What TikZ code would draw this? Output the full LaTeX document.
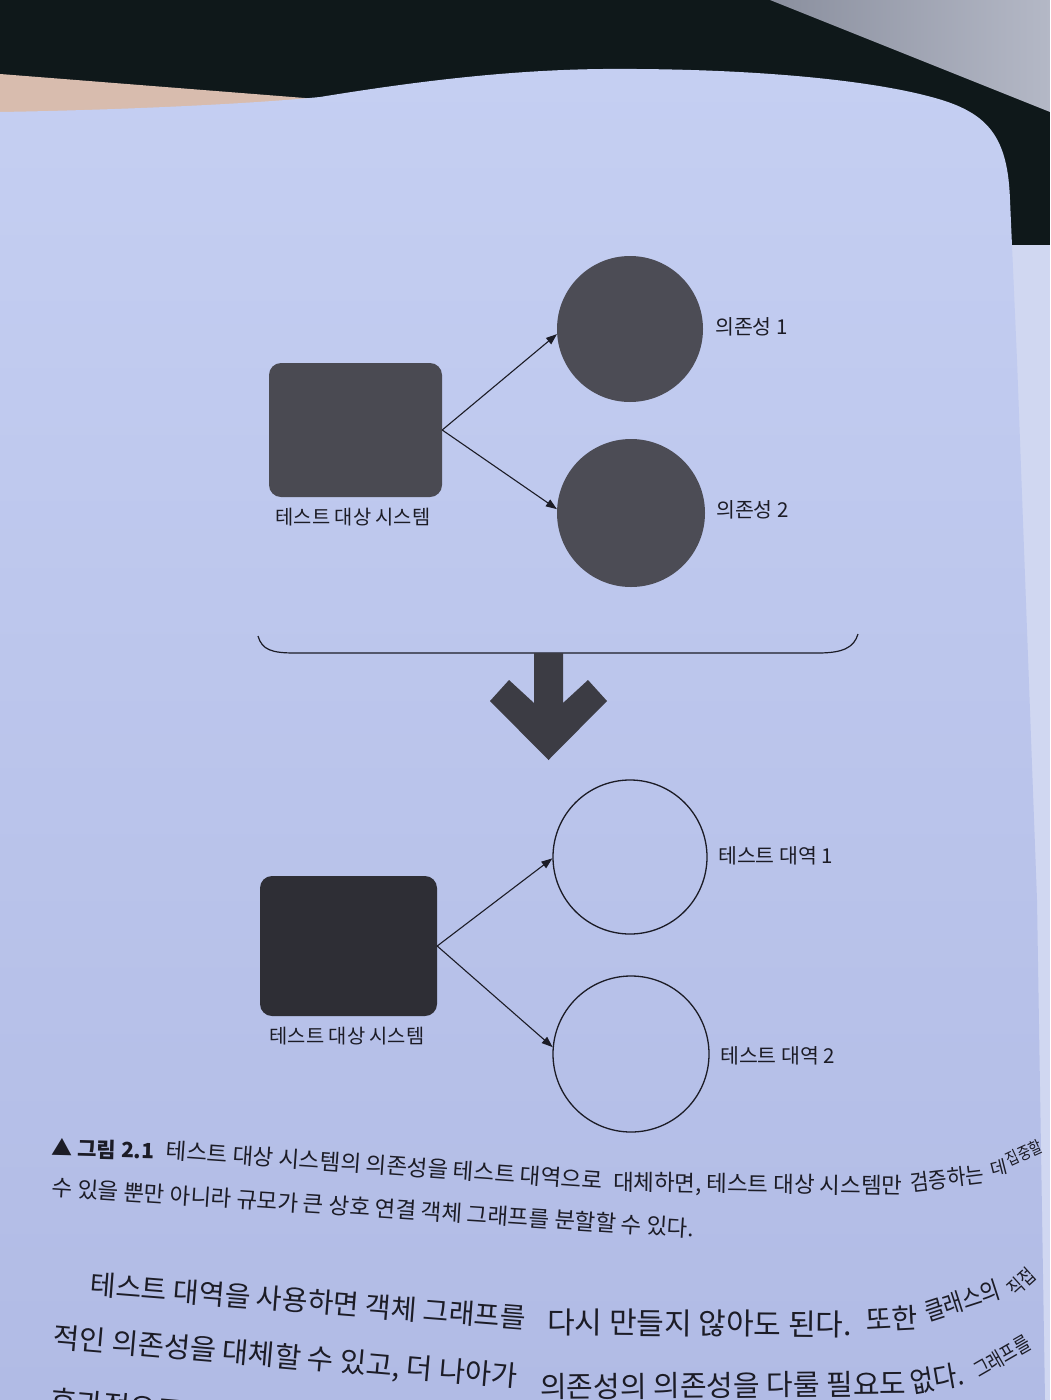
\documentclass[tikz,border=0pt]{standalone}
\usepackage{fontspec}
\newfontfamily\kr{Noto Sans CJK KR}
\usetikzlibrary{arrows.meta}
\definecolor{darkbg}{HTML}{0F181A}
\definecolor{graylt}{HTML}{B4B8C6}
\definecolor{graydk}{HTML}{8A8F9E}
\definecolor{beige}{HTML}{D8BCAE}
\definecolor{pagetop}{HTML}{C5CFF2}
\definecolor{pagebot}{HTML}{B1BBE5}
\definecolor{otherpage}{HTML}{D0D7F1}
\definecolor{sysgray}{HTML}{4A4A52}
\definecolor{sysdark}{HTML}{2E2E35}
\definecolor{dotgray}{HTML}{4C4C55}
\definecolor{arrowgray}{HTML}{3C3C44}
\definecolor{ink}{HTML}{1C1C26}
\begin{document}
\begin{tikzpicture}[x=1pt,y=-1pt,
  sysbox/.style={draw=none, fill=#1, rounded corners=12pt, inner sep=0pt},
  depdot/.style={circle, fill=dotgray, minimum size=#1, inner sep=0pt},
  dblring/.style={circle, draw=ink, line width=1.3pt, minimum size=#1, inner sep=0pt},
  lbl/.style={font=\kr\fontsize{19.8}{21}\selectfont, text=ink, inner sep=0pt},
  rlbl/.style={font=\kr\fontsize{20.5}{22}\selectfont, text=ink, inner sep=0pt, anchor=west},
  conn/.style={draw=ink, line width=1.1pt, -{Triangle[length=11pt,width=8pt]}},
  captxt/.style={font=\kr\fontsize{22.4}{24}\selectfont, text=ink, inner sep=0pt, anchor=west},
  bodytxt/.style={font=\kr\fontsize{28.5}{30}\selectfont, text=ink, inner sep=0pt, anchor=west}]
\useasboundingbox (0,0) rectangle (1050,1400);
\clip (0,0) rectangle (1050,1400);
% background: table, desk and pages
\fill[darkbg] (0,0) rectangle (1050,1400);
\shade[left color=graydk, right color=graylt] (770,0) -- (1050,0) -- (1050,112) -- cycle;
\fill[beige] (0,74) -- (330,100) -- (330,118) -- (0,118) -- cycle;
\fill[otherpage] (1000,245) rectangle (1050,1400);
\shade[top color=pagetop, bottom color=pagebot]
  (0,112) .. controls (120,110) and (250,104) .. (320,97)
  .. controls (400,84) and (500,70) .. (603,69)
  .. controls (750,68) and (880,80) .. (945,101)
  .. controls (990,116) and (1008,140) .. (1010,200)
  -- (1017,360) -- (1037,900) -- (1045,1400) -- (0,1400) -- cycle;
% top diagram
\node[sysbox=sysgray, minimum width=173pt, minimum height=134pt] (sut1) at (355.5,430) {};
\node[lbl] (sut1lbl) at (353,517) {테스트 대상 시스템};
\node[depdot=146pt] (dep1) at (630,329) {};
\node[depdot=148pt] (dep2) at (631,513) {};
\node[rlbl] (dep1lbl) at (715,327) {의존성 1};
\node[rlbl] (dep2lbl) at (716,510) {의존성 2};
\draw[conn] (sut1.east) -- (dep1.184);
\draw[conn] (sut1.east) -- (dep2.177);
% brace and big arrow
\draw[ink, line width=1.2pt] (258,636) .. controls (262,650) and (272,653) .. (295,653)
  -- (818,653) .. controls (842,653) and (854,648) .. (858,634);
\fill[arrowgray] (534,653) -- (563,653) -- (563,703) -- (588,680) -- (607,701)
  -- (548.5,760) -- (490,701) -- (509,680) -- (534,703) -- cycle;
% bottom diagram
\node[sysbox=sysdark, minimum width=177pt, minimum height=140pt] (sut2) at (348.5,946) {};
\node[lbl] (sut2lbl) at (347,1036) {테스트 대상 시스템};
\node[dblring=154pt] (dbl1) at (630,857) {};
\node[dblring=156pt] (dbl2) at (631,1054) {};
\node[rlbl] (dbl1lbl) at (718,856) {테스트 대역 1};
\node[rlbl] (dbl2lbl) at (720,1056) {테스트 대역 2};
\draw[conn] (sut2.east) -- (dbl1.181);
\draw[conn] (sut2.east) -- (dbl2.175);
% caption
\node[captxt, rotate=-1.5, font=\kr\fontsize{21}{22}\selectfont] (capA) at (52,1148) {▲ {\bfseries 그림 2.1}};
\node[captxt, rotate=-4] (capB) at (166,1150) {테스트 대상 시스템의 의존성을 테스트 대역으로};
\node[captxt, rotate=-0.8] (capC) at (613,1183) {대체하면, 테스트 대상 시스템만};
\node[captxt, rotate=7, xscale=0.9] (capD) at (910,1183) {검증하는};
\node[captxt, rotate=14, font=\kr\fontsize{18}{19}\selectfont] (capE) at (991,1170) {데};
\node[captxt, rotate=25, xscale=0.8, font=\kr\fontsize{17}{18}\selectfont] (capF) at (1007,1161) {집중할};
\node[captxt, rotate=-3.7] (capG) at (52,1187) {수 있을 뿐만 아니라 규모가 큰 상호 연결 객체 그래프를 분할할 수 있다.};
% body text
\node[bodytxt, rotate=-4.5, font=\kr\fontsize{28}{30}\selectfont] (bodyA) at (90,1284) {테스트 대역을 사용하면 객체 그래프를};
\node[bodytxt, rotate=-0.5, font=\kr\fontsize{30}{32}\selectfont] (bodyB) at (547,1322) {다시 만들지 않아도 된다.};
\node[bodytxt, rotate=3, font=\kr\fontsize{28}{30}\selectfont] (bodyC) at (866,1320) {또한};
\node[bodytxt, rotate=18, xscale=0.85, font=\kr\fontsize{25}{26}\selectfont] (bodyD) at (925,1313) {클래스의};
\node[bodytxt, rotate=42, xscale=0.8, font=\kr\fontsize{20}{21}\selectfont] (bodyE) at (1010,1292) {직접};
\node[bodytxt, rotate=-4.9] (bodyF) at (53,1338) {적인 의존성을 대체할 수 있고, 더 나아가};
\node[bodytxt, rotate=0.5, font=\kr\fontsize{29}{30}\selectfont] (bodyG) at (540,1387) {의존성의 의존성을 다룰 필요도};
\node[bodytxt, rotate=10, xscale=0.9] (bodyH) at (910,1383) {없다.};
\node[bodytxt, rotate=30, xscale=0.8, font=\kr\fontsize{21}{22}\selectfont] (bodyI) at (975,1372) {그래프를};
\node[bodytxt, rotate=-5, font=\kr\fontsize{29}{30}\selectfont] (bodyJ) at (50,1400) {효과적으로 분해해};
\end{tikzpicture}
\end{document}
